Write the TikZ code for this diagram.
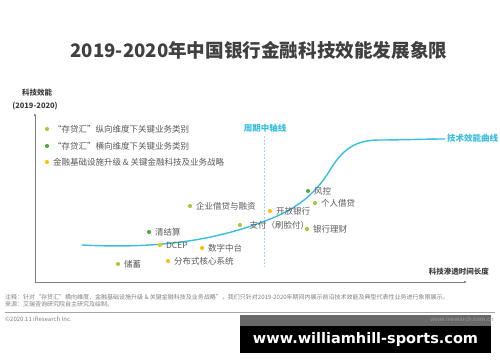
\documentclass[tikz,border=0pt]{standalone}
\usepackage{fontspec}
\setmainfont{Noto Sans CJK SC}
\newfontfamily\wmfont{DejaVu Sans}
\usetikzlibrary{arrows.meta,positioning}
\definecolor{curvecyan}{RGB}{56,190,222}
\definecolor{dashcyan}{RGB}{150,218,236}
\definecolor{axisgray}{RGB}{128,128,128}
\definecolor{textgray}{RGB}{89,89,89}
\definecolor{titlegray}{RGB}{64,64,64}
\definecolor{vgreen}{RGB}{168,202,60}
\definecolor{hgreen}{RGB}{90,170,66}
\definecolor{infyellow}{RGB}{248,196,24}
\definecolor{bannergray}{RGB}{104,104,104}

\begin{document}
\begin{tikzpicture}[x=1pt, y=-1pt,
      node distance=3.5pt,
      every node/.style={font=\fontsize{8.5}{10}\selectfont, text=textgray, inner sep=0pt},
      marker/.style={circle, minimum size=4.2pt, inner sep=0pt},
      vdot/.style={marker, fill=vgreen},
      hdot/.style={marker, fill=hgreen},
      idot/.style={marker, fill=infyellow},
      lbl/.style={anchor=west},
      axis/.style={-{Latex[length=3pt,width=2.6pt]}, axisgray, line width=0.6pt},
      cyanlabel/.style={text=curvecyan, font=\fontsize{8.5}{10}\selectfont\bfseries},
      axislabel/.style={text=titlegray, font=\fontsize{7.5}{9}\selectfont\bfseries},
      note/.style={anchor=west, text=axisgray, font=\fontsize{6}{7}\selectfont}
  ]
    \useasboundingbox[fill=white] (0,0) rectangle (500,362);
    % title
    \node[text=titlegray, font=\fontsize{18.6}{22}\selectfont\bfseries] (title) at (259,50) {2019-2020年中国银行金融科技效能发展象限};
    % axes
    \coordinate (origin) at (35,282);
    \coordinate (ytop) at (35,113);
    \coordinate (xend) at (467,282);
    \draw[axis] (origin) -- (ytop);
    \draw[axis] (origin) -- (xend);
    \node[axislabel] (ylab) at (37,93) {科技效能};
    \node[axislabel] (yyears) at (35,106) {(2019-2020)};
    \node[axislabel, anchor=east] (xlab) at (489,272) {科技渗透时间长度};
    % legend
    \node[vdot] (leg1) at (47,129) {};
    \node[lbl, right=of leg1] (legtext1) {“存贷汇”纵向维度下关键业务类别};
    \node[hdot] (leg2) at (47,146) {};
    \node[lbl, right=of leg2] (legtext2) {“存贷汇”横向维度下关键业务类别};
    \node[idot] (leg3) at (47,162) {};
    \node[lbl, right=of leg3] (legtext3) {金融基础设施升级 \& 关键金融科技及业务战略};
    % cycle midline
    \coordinate (midtop) at (264,136);
    \coordinate (midbot) at (264,266);
    \draw[dashcyan, line width=0.8pt, dash pattern=on 2pt off 1.5pt] (midtop) -- (midbot);
    \node[cyanlabel] (midlab) at (265,128) {周期中轴线};
    % efficiency curve
    \coordinate (c0) at (82,245);
    \coordinate (c1) at (265,221);
    \coordinate (c2) at (330,170);
    \coordinate (c3) at (380,140);
    \coordinate (c4) at (445,139);
    \draw[curvecyan, line width=1.4pt]
      (c0) .. controls (160,249) and (215,240) .. (c1)
           .. controls (295,210) and (315,195) .. (c2)
           .. controls (345,145) and (360,140) .. (c3)
           .. controls (400,140) and (425,139) .. (c4);
    \node[cyanlabel, anchor=west] (curvelab) at (447,138) {技术效能曲线};
    % business points
    \node[vdot] (savings) at (118,264) {};
    \node[lbl, right=of savings] (savingstext) {储蓄};
    \node[idot] (core) at (168,261) {};
    \node[lbl, right=of core] (coretext) {分布式核心系统};
    \node[idot] (dcep) at (160,245) {};
    \node[lbl, right=of dcep] (dceptext) {DCEP};
    \node[idot] (midplat) at (202,248) {};
    \node[lbl, right=of midplat] (midplattext) {数字中台};
    \node[hdot] (clearing) at (149,232) {};
    \node[lbl, right=of clearing] (clearingtext) {清结算};
    \node[vdot] (corploan) at (190,206) {};
    \node[lbl, right=of corploan] (corploantext) {企业借贷与融资};
    \node[vdot] (payment) at (240,225) {};
    \node[lbl, right=7pt of payment] (paymenttext) {支付（刷脸付）};
    \node[idot] (openbank) at (270,211) {};
    \node[lbl, right=of openbank] (openbanktext) {开放银行};
    \node[hdot] (risk) at (308,191) {};
    \node[lbl, right=of risk] (risktext) {风控};
    \node[vdot] (personal) at (315,203) {};
    \node[lbl, right=of personal] (personaltext) {个人借贷};
    \node[vdot] (wealth) at (307,229) {};
    \node[lbl, right=of wealth] (wealthtext) {银行理财};
    % notes
    \node[note] (note1) at (5,297) {注释：针对“存贷汇”横向维度、金融基础设施升级 \& 关键金融科技及业务战略”，我们只针对2019-2020年期间内展示前沿技术效能及典型代表性业务进行象限展示。};
    \node[note] (note2) at (5,304.5) {来源：艾瑞咨询研究院自主研究及绘制。};
    \coordinate (sepleft) at (5,312);
    \coordinate (sepright) at (495,312);
    \draw[axisgray!70, line width=0.6pt] (sepleft) -- (sepright);
    % banner
    \fill[bannergray] (240,315) rectangle (491,326);
    \fill[black] (240,326) rectangle (491,353);
    \node[note] (copyright) at (5,319.5) {©2020.11 iResearch Inc.};
    \node[note, anchor=east, text=axisgray!80] (site) at (494,319.5) {www.iresearch.com.cn};
    \node[text=white, font=\wmfont\bfseries\fontsize{14.5}{16}\selectfont] (banner) at (365.5,339.5) {www.williamhill-sports.com};
  \end{tikzpicture}
\end{document}
